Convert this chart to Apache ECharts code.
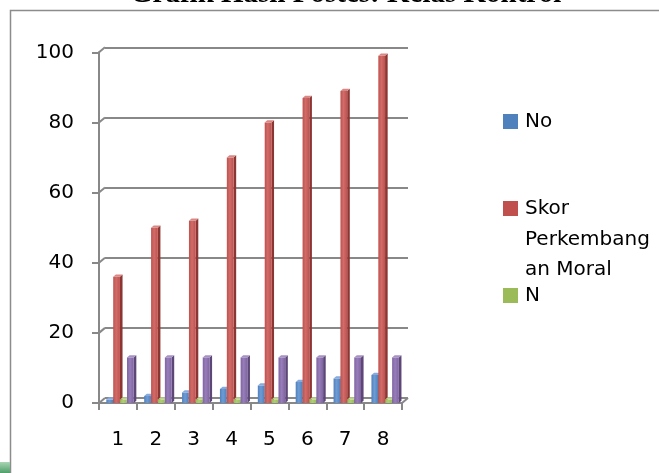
<!DOCTYPE html>
<html>
<head>
<meta charset="utf-8">
<script src="https://cdn.jsdelivr.net/npm/echarts@6/dist/echarts.min.js"></script>
<style>
  html, body { margin: 0; padding: 0; background: #ffffff; }
  #chart { width: 659px; height: 473px; }
</style>
</head>
<body>
<div id="chart"></div>
<script>
// ---- data ----
const categories = ['1', '2', '3', '4', '5', '6', '7', '8'];
const noValues = [1, 2, 3, 4, 5, 6, 7, 8];
const skorValues = [36, 50, 52, 70, 80, 87, 89, 99];
const nValues = [1, 1, 1, 1, 1, 1, 1, 1];
const series4Values = [13, 13, 13, 13, 13, 13, 13, 13];
const yTicks = [0, 20, 40, 60, 80, 100];
const seriesNames = ['No', 'Skor Perkembangan Moral', 'N', 'Seri 4'];
const titleText = 'Grafik Hasil Postes: Kelas Kontrol';

// ---- styling ----
const FONT = 'DejaVu Sans';
const GRID_COLOR = '#888888';
const WALL_DX = 6, WALL_DY = 5;      // offset of the back wall
const BAR_DX = 2.6, BAR_DY = 2.2;    // depth of each column

const palette = [
  { front: '#4F81BD', hi: '#6f9bd3', side: '#375e8e', top: '#86aadb' },
  { front: '#C0504D', hi: '#d06c69', side: '#8c3634', top: '#d98784' },
  { front: '#9BBB59', hi: '#b0cd74', side: '#718a3d', top: '#bcd58b' },
  { front: '#8064A2', hi: '#977dba', side: '#5c4777', top: '#a690c4' }
];

// 3D-looking column: front face, right side face and top face
function columnRenderer(slot) {
  const c = palette[slot];
  return function (params, api) {
    const idx = api.value(0);
    const val = api.value(1);
    const topPt = api.coord([idx, val]);
    const basePt = api.coord([idx, 0]);
    const cw = api.size([1, 0])[0];
    const w = cw * 0.178;
    const x = topPt[0] - cw / 2 + cw * 0.193 + slot * cw * 0.182;
    const yT = topPt[1];
    const yB = basePt[1];
    return {
      type: 'group',
      children: [
        {
          type: 'polygon',
          shape: { points: [[x + w, yT], [x + w + BAR_DX, yT - BAR_DY], [x + w + BAR_DX, yB - BAR_DY], [x + w, yB]] },
          style: { fill: c.side }
        },
        {
          type: 'rect',
          shape: { x: x, y: yT, width: w, height: yB - yT },
          style: {
            fill: new echarts.graphic.LinearGradient(0, 0, 1, 0, [
              { offset: 0, color: c.front },
              { offset: 0.45, color: c.hi },
              { offset: 1, color: c.front }
            ])
          }
        },
        {
          type: 'polygon',
          shape: { points: [[x, yT], [x + BAR_DX, yT - BAR_DY], [x + w + BAR_DX, yT - BAR_DY], [x + w, yT]] },
          style: { fill: c.top }
        }
      ]
    };
  };
}

// diagonal wall edges joining the front axis ticks to the back-wall gridlines
function wallEdgeRenderer(params, api) {
  const v = api.value(1);
  const p = api.coord([0, v]);
  const cs = params.coordSys;
  const children = [{
    type: 'line',
    shape: { x1: cs.x, y1: p[1], x2: cs.x + WALL_DX, y2: p[1] - WALL_DY },
    style: { stroke: GRID_COLOR, lineWidth: 2 }
  }];
  if (v === 0) {
    const xr = cs.x + cs.width;
    children.push({
      type: 'line',
      shape: { x1: xr, y1: p[1], x2: xr + WALL_DX, y2: p[1] - WALL_DY },
      style: { stroke: GRID_COLOR, lineWidth: 2 }
    });
  }
  return { type: 'group', children: children };
}

const valueSets = [noValues, skorValues, nValues, series4Values];

const chart = echarts.init(document.getElementById('chart'), null, { renderer: 'canvas' });

chart.setOption({
  animation: false,
  backgroundColor: '#ffffff',
  title: {
    text: titleText,
    left: 130,
    top: -20,
    padding: 0,
    textStyle: { fontFamily: 'Liberation Serif', fontWeight: 'bold', fontSize: 29, color: '#000000' }
  },
  legend: {
    orient: 'vertical',
    left: 503,
    top: 106.5,
    padding: 0,
    itemWidth: 15,
    itemHeight: 15,
    itemGap: 57,
    icon: 'rect',
    selectedMode: false,
    data: ['No', 'Skor Perkembangan Moral', 'N'],
    formatter: function (name) { return name === 'Skor Perkembangan Moral' ? 'Skor' : name; },
    textStyle: { fontFamily: FONT, fontSize: 20, color: '#000000', lineHeight: 30, padding: [0, 0, 0, 2] }
  },
  graphic: [
    {
      type: 'rect',
      shape: { x: 10.5, y: 10.5, width: 700, height: 500 },
      style: { fill: null, stroke: '#8c8c8c', lineWidth: 1.5 },
      z: -1
    },
    {
      type: 'rect',
      shape: { x: 0, y: 462, width: 10, height: 11 },
      style: {
        fill: new echarts.graphic.LinearGradient(0, 0, 0, 1, [
          { offset: 0, color: '#a9d5b4' },
          { offset: 1, color: '#4f9f6a' }
        ])
      }
    },
    {
      type: 'text',
      left: 525,
      top: 225,
      style: {
        text: 'Perkembang\nan Moral',
        font: '20px "' + FONT + '"',
        lineHeight: 30,
        fill: '#000000'
      }
    }
  ],
  grid: [
    { left: 99, top: 52.3, width: 303, height: 350.7 },
    { left: 99 + WALL_DX, top: 52.3 - WALL_DY, width: 303, height: 350.7 }
  ],
  xAxis: [
    {
      type: 'category',
      gridIndex: 0,
      data: categories,
      axisLine: { show: true, lineStyle: { color: GRID_COLOR, width: 2 } },
      axisTick: { show: true, length: 7, interval: 0, lineStyle: { color: GRID_COLOR, width: 2 } },
      axisLabel: { fontFamily: FONT, fontSize: 20, color: '#000000', margin: 27, interval: 0 },
      splitLine: { show: false }
    },
    {
      type: 'category',
      gridIndex: 1,
      data: categories,
      show: false
    }
  ],
  yAxis: [
    {
      type: 'value',
      gridIndex: 0,
      min: 0,
      max: 100,
      interval: 20,
      axisLine: { show: true, lineStyle: { color: GRID_COLOR, width: 2 } },
      axisTick: { show: true, length: 7, lineStyle: { color: GRID_COLOR, width: 2 } },
      axisLabel: { fontFamily: FONT, fontSize: 20, color: '#000000', margin: 25 },
      splitLine: { show: false }
    },
    {
      type: 'value',
      gridIndex: 1,
      min: 0,
      max: 100,
      interval: 20,
      axisLine: { show: false },
      axisTick: { show: false },
      axisLabel: { show: false },
      splitLine: { show: true, lineStyle: { color: GRID_COLOR, width: 2 } }
    }
  ],
  series: [
    {
      type: 'custom',
      name: 'wall',
      xAxisIndex: 0,
      yAxisIndex: 0,
      silent: true,
      data: yTicks.map(function (v) { return [0, v]; }),
      renderItem: wallEdgeRenderer,
      z: 1
    }
  ].concat(valueSets.map(function (vals, s) {
    return {
      type: 'custom',
      name: seriesNames[s],
      xAxisIndex: 0,
      yAxisIndex: 0,
      itemStyle: { color: palette[s].front },
      encode: { x: 0, y: 1 },
      data: vals.map(function (v, i) { return [i, v]; }),
      renderItem: columnRenderer(s),
      z: 3
    };
  }))
});
</script>
</body>
</html>
